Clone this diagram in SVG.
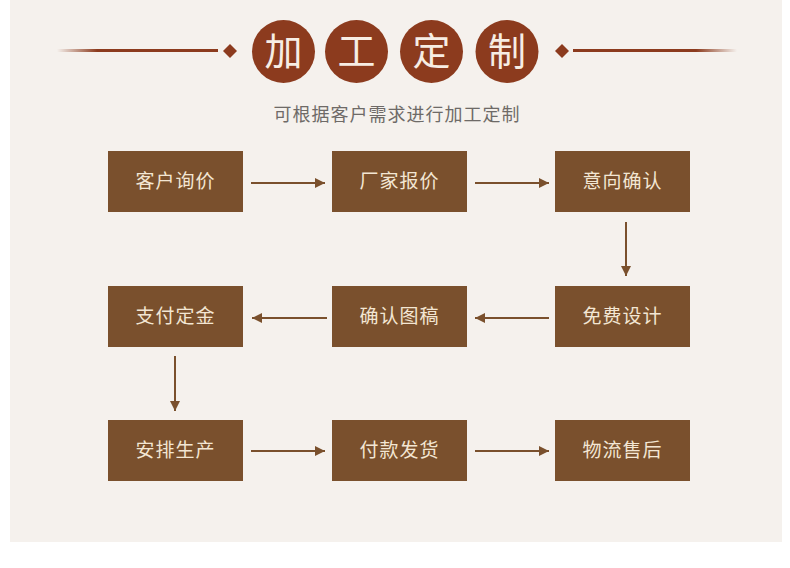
<svg xmlns="http://www.w3.org/2000/svg" width="790" height="568" viewBox="0 0 790 568">
<defs>
<style>
.box{fill:#7a502d;}
.lbl{font-family:"Noto Sans CJK SC","Noto Sans",sans-serif;font-size:19px;fill:#f3e6d3;text-anchor:middle;letter-spacing:1px;}
.circ{fill:#8c3b1e;}
.ttl{font-family:"Noto Sans CJK SC",sans-serif;font-size:38px;fill:#f7ede4;text-anchor:middle;}
.conn{stroke:#7a502d;stroke-width:2;fill:none;marker-end:url(#ah);}
</style>
<marker id="ah" viewBox="0 0 10 10" refX="10" refY="5" markerWidth="5" markerHeight="5" orient="auto" markerUnits="strokeWidth">
<path d="M0,0 L10,5 L0,10 z" fill="#7a502d"/>
</marker>
<linearGradient id="gl" x1="0" x2="1" y1="0" y2="0">
<stop offset="0" stop-color="#8c3b1e" stop-opacity="0"/>
<stop offset="0.25" stop-color="#8c3b1e" stop-opacity="1"/>
<stop offset="1" stop-color="#8c3b1e"/>
</linearGradient>
<linearGradient id="gr" x1="0" x2="1" y1="0" y2="0">
<stop offset="0" stop-color="#8c3b1e"/>
<stop offset="0.75" stop-color="#8c3b1e" stop-opacity="1"/>
<stop offset="1" stop-color="#8c3b1e" stop-opacity="0"/>
</linearGradient>
</defs>
<rect x="0" y="0" width="790" height="568" fill="#ffffff"/>
<rect x="10" y="0" width="772" height="542" fill="#f5f1ed"/>
<g id="header">
<rect x="57" y="49" width="161" height="3" fill="url(#gl)"/>
<path d="M230,44 L237,51 L230,58 L223,51 z" fill="#8c3b1e"/>
<rect x="573" y="49" width="164" height="3" fill="url(#gr)"/>
<path d="M562,44 L569,51 L562,58 L555,51 z" fill="#8c3b1e"/>
<circle class="circ" cx="283.5" cy="51.5" r="31.5"/>
<circle class="circ" cx="356.5" cy="51.5" r="31.5"/>
<circle class="circ" cx="431.5" cy="51.5" r="31.5"/>
<circle class="circ" cx="507" cy="51.5" r="31.5"/>
<text class="ttl" x="283.5" y="65">加</text>
<text class="ttl" x="356.5" y="65">工</text>
<text class="ttl" x="431.5" y="65">定</text>
<text class="ttl" x="507" y="65">制</text>
<text x="397" y="121" font-family="Noto Sans CJK SC,sans-serif" font-size="18" fill="#6e6a67" text-anchor="middle" letter-spacing="1">可根据客户需求进行加工定制</text>
</g>
<g id="connectors">
<line class="conn" x1="251" y1="183" x2="325" y2="183"/>
<line class="conn" x1="475" y1="183" x2="549" y2="183"/>
<line class="conn" x1="626" y1="222" x2="626" y2="276"/>
<line class="conn" x1="549" y1="318" x2="475" y2="318"/>
<line class="conn" x1="327" y1="318" x2="252" y2="318"/>
<line class="conn" x1="175" y1="356" x2="175" y2="411"/>
<line class="conn" x1="251" y1="451" x2="325" y2="451"/>
<line class="conn" x1="475" y1="451" x2="549" y2="451"/>
</g>
<g id="n1"><rect class="box" x="108" y="151" width="135" height="61"/><text class="lbl" x="175.5" y="188">客户询价</text></g>
<g id="n2"><rect class="box" x="332" y="151" width="135" height="61"/><text class="lbl" x="399.5" y="188">厂家报价</text></g>
<g id="n3"><rect class="box" x="555" y="151" width="135" height="61"/><text class="lbl" x="622.5" y="188">意向确认</text></g>
<g id="n4"><rect class="box" x="555" y="286" width="135" height="61"/><text class="lbl" x="622.5" y="323">免费设计</text></g>
<g id="n5"><rect class="box" x="332" y="286" width="135" height="61"/><text class="lbl" x="399.5" y="323">确认图稿</text></g>
<g id="n6"><rect class="box" x="108" y="286" width="135" height="61"/><text class="lbl" x="175.5" y="323">支付定金</text></g>
<g id="n7"><rect class="box" x="108" y="420" width="135" height="61"/><text class="lbl" x="175.5" y="457">安排生产</text></g>
<g id="n8"><rect class="box" x="332" y="420" width="135" height="61"/><text class="lbl" x="399.5" y="457">付款发货</text></g>
<g id="n9"><rect class="box" x="555" y="420" width="135" height="61"/><text class="lbl" x="622.5" y="457">物流售后</text></g>
</svg>
